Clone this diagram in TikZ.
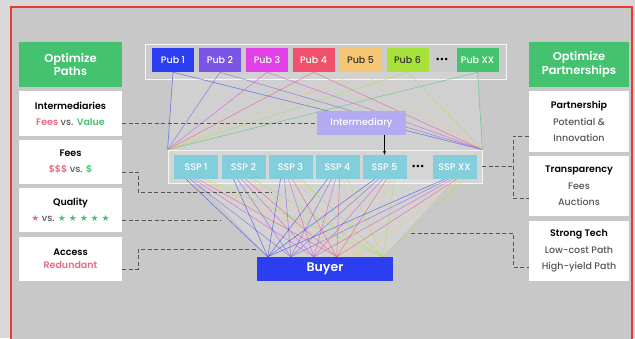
\documentclass[tikz,border=0pt]{standalone}
\usepackage{fontspec}
\setmainfont{Poppins}[UprightFont=* Medium, BoldFont=* SemiBold]
\newfontfamily\starfont{DejaVu Sans}
\usetikzlibrary{positioning,calc,arrows.meta}

\definecolor{outergrey}{HTML}{D9D9D9}
\definecolor{bggrey}{HTML}{C8C8C8}
\definecolor{framered}{HTML}{E63B2E}
\definecolor{pubblue}{HTML}{2B3FF0}
\definecolor{pubpurple}{HTML}{7A55E6}
\definecolor{pubmagenta}{HTML}{E040E6}
\definecolor{pubred}{HTML}{F0506C}
\definecolor{pubyellow}{HTML}{F6C873}
\definecolor{publime}{HTML}{A6E23A}
\definecolor{pubgreen}{HTML}{45C46F}
\definecolor{sspteal}{HTML}{82CEDC}
\definecolor{intlav}{HTML}{B3ABF2}
\definecolor{hdrgreen}{HTML}{45C26F}
\definecolor{pinktext}{HTML}{E86A84}
\definecolor{greentext}{HTML}{45C26F}
\definecolor{greytext}{HTML}{555555}
\definecolor{darktext}{HTML}{333333}
\definecolor{dashgrey}{HTML}{555555}

\tikzset{
  pubbox/.style={minimum width=42pt, minimum height=24pt, inner sep=0pt, font=\fontsize{9.5}{10}\selectfont},
  sspbox/.style={fill=sspteal, text=white, minimum width=44pt, minimum height=24pt, inner sep=0pt, font=\fontsize{9.5}{10}\selectfont},
  dotsnode/.style={inner sep=0pt, font=\bfseries\fontsize{9}{10}\selectfont},
  rowbox/.style={draw=white!92!gray, line width=0.8pt, inner sep=0pt},
  sidebox/.style={fill=white, inner sep=0pt, align=center, font=\fontsize{9.5}{16}\selectfont},
  headbox/.style={fill=hdrgreen, text=white, inner sep=0pt, align=center, minimum height=45pt, font=\bfseries\fontsize{11.5}{13.5}\selectfont},
  wire/.style={line width=0.6pt, opacity=0.6},
  conn/.style={draw=dashgrey, line width=0.8pt, dash pattern=on 4pt off 2.5pt},
}

\begin{document}
\begin{tikzpicture}[x=1pt, y=-1pt]
  % page and frame
  \useasboundingbox (0,0) rectangle (635,338);
  \fill[outergrey] (0,0) rectangle (635,338);
  \fill[bggrey] (11,7) rectangle (632,350);
  \draw[framered, line width=2.5pt] (11,350) -- (11,7) -- (632,7) -- (632,350);

  % rows
  \node[rowbox, fill=white, fill opacity=0.06, minimum width=361pt, minimum height=35pt] (pubrow) at (325.5,61.5) {};
  \node[rowbox, fill=white, fill opacity=0.25, minimum width=314pt, minimum height=33pt] (ssprow) at (325,166.5) {};

  % publishers
  \foreach \nm/\lab/\col/\tc/\x in {pa/Pub 1/pubblue/white/173, pb/Pub 2/pubpurple/white/220,
      pc/Pub 3/pubmagenta/white/267, pd/Pub 4/pubred/white/313.5, pe/Pub 5/pubyellow/darktext/360.5,
      pf/Pub 6/publime/darktext/407.5, px/Pub XX/pubgreen/white/477.5}
    \node[pubbox, fill=\col, text=\tc] (\nm) at (\x,60) {\lab};
  \node[dotsnode] (pdots) at (442,60) {•••};

  % ssps
  \foreach \nm/\lab/\x in {sa/SSP 1/196, sb/SSP 2/243.5, sc/SSP 3/290.5, sd/SSP 4/337.5, se/SSP 5/384.5, sx/SSP XX/454.5}
    \node[sspbox] (\nm) at (\x,167) {\lab};
  \node[dotsnode] (sdots) at (418,167) {•••};

  % buyer
  \node[fill=pubblue, text=white, minimum width=136pt, minimum height=24pt, inner sep=0pt,
        font=\bfseries\fontsize{12.5}{14}\selectfont] (buyer) at (325,269) {Buyer};
  \foreach \j in {0,...,5}
    \coordinate (bp\j) at ($(buyer.north west)+(11+23*\j,0)$);

  % fans
  \fill[white, opacity=0.15] (pa.south) -- (px.south) -- (ssprow.north east) -- (ssprow.north west) -- cycle;
  \fill[white, opacity=0.2] (sa.south) -- (sx.south) -- (bp5) -- (bp0) -- cycle;

  % publisher lines
  \foreach \nm/\col in {pa/pubblue, pb/pubpurple, pc/pubmagenta, pd/pubred, pe/pubyellow, pf/publime, px/pubgreen} {
    \draw[wire, \col] (\nm.south) -- (ssprow.north west);
    \draw[wire, \col] (\nm.south) -- (ssprow.north east);
  }

  % ssp lines to the buyer
  \foreach \nm in {sa,sb,sc,sd,se,sx}
    \foreach \j/\col in {0/pubblue, 1/pubpurple, 2/pubmagenta, 3/pubred, 4/pubyellow, 5/publime}
      \draw[wire, \col] ([xshift={(4*\j-10)*1pt}]\nm.south) -- (bp\j);

  % intermediary
  \node[fill=intlav, text=white, minimum width=89pt, minimum height=24pt, inner sep=0pt,
        font=\fontsize{9.5}{10}\selectfont] (interm) at (361.5,123) {Intermediary};
  \draw[-{Stealth[length=4pt]}, line width=0.7pt] (interm.south -| se.north) -- (se.north);

  % left column
  \node[headbox, minimum width=103pt] (lhead) at (70.5,64.5) {Optimize\\Paths};
  \node[sidebox, minimum width=103pt, minimum height=45pt] (inter) at (70.5,113.5)
    {\textbf{Intermediaries}\\\textcolor{pinktext}{\textbf{Fees}} \textcolor{greytext}{vs.} \textcolor{greentext}{\textbf{Value}}};
  \node[sidebox, minimum width=103pt, minimum height=44pt] (fees) at (70.5,162)
    {\textbf{Fees}\\\textcolor{pinktext}{\textbf{\$\$\$}} \textcolor{greytext}{vs.} \textcolor{greentext}{\textbf{\$}}};
  \node[sidebox, minimum width=103pt, minimum height=44pt] (qual) at (70.5,210)
    {\textbf{Quality}\\{\starfont\fontsize{9}{16}\selectfont\textcolor{pinktext}{★}} \textcolor{greytext}{vs.}
     {\starfont\fontsize{9}{16}\selectfont\textcolor{greentext}{★ ★ ★ ★ ★}}};
  \node[sidebox, minimum width=103pt, minimum height=44pt] (acc) at (70.5,259)
    {\textbf{Access}\\[-3pt]\textcolor{pinktext}{\textbf{Redundant}}};

  % right column
  \node[headbox, minimum width=100pt] (rhead) at (579,64.5) {Optimize\\Partnerships};
  \node[sidebox, minimum width=100pt, minimum height=61pt, font=\fontsize{9.5}{16.5}\selectfont] (part) at (579,121.5)
    {\textbf{Partnership}\\\textcolor{greytext}{Potential \&}\\\textcolor{greytext}{Innovation}};
  \node[sidebox, minimum width=100pt, minimum height=60pt, font=\fontsize{9.5}{16.5}\selectfont] (trans) at (579,186)
    {\textbf{Transparency}\\\textcolor{greytext}{Fees}\\\textcolor{greytext}{Auctions}};
  \node[sidebox, minimum width=100pt, minimum height=60pt, font=\fontsize{9.5}{16.5}\selectfont] (tech) at (579,251)
    {\textbf{Strong Tech}\\\textcolor{greytext}{Low-cost Path}\\\textcolor{greytext}{High-yield Path}};

  % dashed links
  \coordinate (feesend) at (272,192);
  \coordinate (qualend) at (220,220);
  \coordinate (accend) at (257,249);
  \coordinate (techend) at (411,233);
  \coordinate (brk) at (513,0);
  \draw[conn] (interm.west -| inter.east) -- (interm.west);
  \draw[conn] ([yshift=-10pt]fees.east) -- ++(16,0) |- (feesend);
  \draw[conn] ([yshift=-10pt]qual.east) -- (qualend);
  \draw[conn] ([yshift=-10pt]acc.east) -- ++(16,0) |- (accend);
  \draw[conn] ([yshift=-14.5pt]part.west) -- ([yshift=-14.5pt]part.west -| brk) |- ([yshift=-12pt]trans.west);
  \draw[conn] (ssprow.east) -- (ssprow.east -| brk);
  \draw[conn] (techend) -- (techend -| brk) |- ([yshift=-16pt]tech.west);
\end{tikzpicture}
\end{document}
